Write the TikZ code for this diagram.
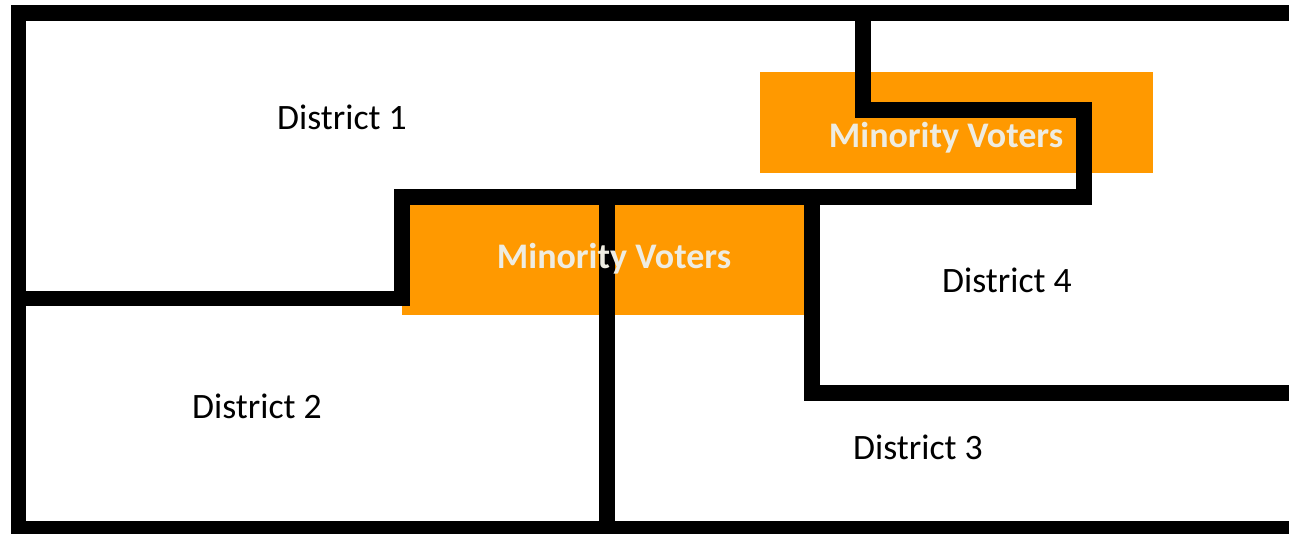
\documentclass[tikz,border=0pt]{standalone}
\usepackage{fontspec}
\setmainfont{Carlito}
\definecolor{minority}{HTML}{FF9900}
\definecolor{minoritytext}{HTML}{EEECE1}
\tikzset{
  border/.style={line width=15.5pt, line join=miter, draw=black},
  region/.style={fill=minority, draw=none},
  districtlabel/.style={font=\fontsize{35.7}{42}\selectfont, text=black, inner sep=0pt},
  minoritylabel/.style={font=\fontsize{36}{42}\selectfont\bfseries, text=minoritytext, inner sep=0pt}
}
\begin{document}
\begin{tikzpicture}[x=1pt, y=-1pt]
  \useasboundingbox (0,0) rectangle (1289,534);
  % minority areas
  \fill[region] (760,72) rectangle (1153,173);
  \fill[region] (402,197) rectangle (804,315);
  % outer frame (open on the right)
  \draw[border] (1295,13) -- (18.5,13) -- (18.5,529) -- (1295,529);
  % district 1 / district 2 boundary, climbing around the lower minority block
  \draw[border] (11,298.5) -- (402,298.5) -- (402,197) -- (1084,197)
                -- (1084,110) -- (863,110) -- (863,13);
  % district 2 / district 3 boundary
  \draw[border] (607,197) -- (607,529);
  % district 4 boundary
  \draw[border] (812,197) -- (812,393) -- (1295,393);
  % labels
  \node[districtlabel] (d1) at (342,117) {District 1};
  \node[districtlabel] (d2) at (257,406) {District 2};
  \node[districtlabel] (d3) at (918,447) {District 3};
  \node[districtlabel] (d4) at (1007,280) {District 4};
  \node[minoritylabel] (m1) at (946,138) {Minority Voters};
  \node[minoritylabel] (m2) at (614,259) {Minority Voters};
\end{tikzpicture}
\end{document}
